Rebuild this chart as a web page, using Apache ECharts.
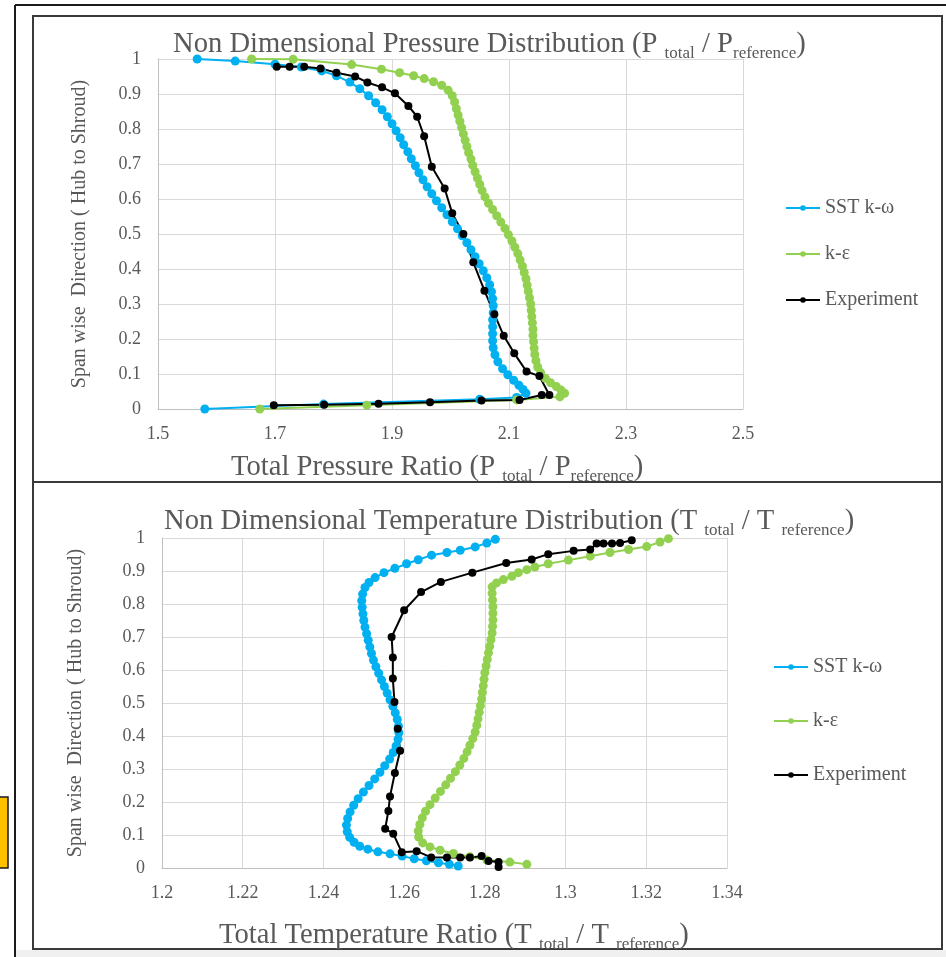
<!DOCTYPE html>
<html>
<head>
<meta charset="utf-8">
<script src="https://cdn.jsdelivr.net/npm/echarts@6/dist/echarts.min.js"></script>
<style>
html,body{margin:0;padding:0;background:#fff;}
#c{width:946px;height:957px;}
</style>
</head>
<body>
<div id="c"></div>
<script>
// ---------- DATA ----------
const seriesNames = ['SST k-ω', 'k-ε', 'Experiment'];

// Pressure chart: [total pressure ratio, span]
const pressureSST = [
[1.567,1.000],[1.632,0.994],[1.700,0.985],[1.745,0.977],[1.780,0.966],[1.805,0.952],[1.828,0.934],[1.845,0.915],[1.860,0.895],[1.872,0.875],[1.883,0.855],[1.892,0.835],[1.900,0.815],[1.907,0.795],[1.914,0.775],[1.920,0.755],[1.927,0.735],[1.933,0.715],[1.940,0.695],[1.946,0.675],[1.953,0.655],[1.960,0.635],[1.968,0.615],[1.976,0.595],[1.985,0.575],[1.994,0.555],[2.003,0.535],[2.012,0.515],[2.020,0.495],[2.028,0.475],[2.035,0.455],[2.042,0.435],[2.049,0.415],[2.056,0.395],[2.062,0.375],[2.067,0.355],[2.070,0.335],[2.072,0.315],[2.073,0.295],[2.073,0.275],[2.072,0.255],[2.072,0.235],[2.072,0.215],[2.072,0.195],[2.073,0.175],[2.076,0.155],[2.081,0.135],[2.089,0.115],[2.098,0.098],[2.108,0.082],[2.117,0.068],[2.124,0.056],[2.129,0.045],[2.113,0.033],[2.050,0.028],[1.783,0.014],[1.580,0.000]
];
const pressureKE = [
[1.660,1.000],[1.731,0.999],[1.831,0.984],[1.882,0.971],[1.913,0.961],[1.937,0.952],[1.955,0.944],[1.971,0.935],[1.985,0.925],[1.996,0.911],[2.003,0.895],[2.007,0.877],[2.010,0.858],[2.013,0.840],[2.016,0.822],[2.019,0.804],[2.022,0.786],[2.025,0.768],[2.028,0.750],[2.031,0.732],[2.035,0.714],[2.038,0.696],[2.042,0.678],[2.046,0.660],[2.050,0.642],[2.054,0.624],[2.059,0.606],[2.065,0.588],[2.072,0.570],[2.079,0.552],[2.086,0.534],[2.093,0.516],[2.099,0.498],[2.105,0.480],[2.110,0.462],[2.115,0.444],[2.119,0.426],[2.123,0.408],[2.126,0.390],[2.129,0.372],[2.131,0.354],[2.133,0.336],[2.135,0.318],[2.137,0.300],[2.138,0.282],[2.139,0.264],[2.140,0.246],[2.141,0.228],[2.141,0.210],[2.142,0.192],[2.143,0.174],[2.144,0.156],[2.146,0.138],[2.149,0.120],[2.154,0.104],[2.162,0.088],[2.171,0.075],[2.181,0.064],[2.189,0.054],[2.195,0.045],[2.187,0.035],[2.113,0.026],[1.857,0.011],[1.674,0.000]
];
const pressureExp = [
[1.703,0.978],[1.725,0.978],[1.750,0.978],[1.778,0.973],[1.805,0.961],[1.837,0.950],[1.858,0.933],[1.883,0.919],[1.905,0.902],[1.928,0.866],[1.943,0.835],[1.955,0.779],[1.968,0.692],[1.990,0.630],[2.003,0.559],[2.022,0.500],[2.039,0.419],[2.058,0.338],[2.075,0.271],[2.091,0.209],[2.109,0.159],[2.130,0.107],[2.152,0.094],[2.169,0.040],[2.156,0.040],[2.118,0.026],[2.053,0.024],[1.965,0.019],[1.877,0.015],[1.784,0.012],[1.698,0.011]
];

// Temperature chart: [total temperature ratio, span]
const tempSST = [
[1.2826,0.996],[1.2805,0.985],[1.2776,0.973],[1.2739,0.963],[1.2706,0.956],[1.2668,0.948],[1.2635,0.934],[1.2606,0.922],[1.2577,0.908],[1.2550,0.895],[1.2528,0.880],[1.2513,0.865],[1.2503,0.850],[1.2497,0.830],[1.2495,0.810],[1.2496,0.790],[1.2498,0.770],[1.2500,0.750],[1.2503,0.730],[1.2507,0.710],[1.2511,0.690],[1.2515,0.670],[1.2519,0.650],[1.2524,0.630],[1.2530,0.610],[1.2537,0.590],[1.2544,0.570],[1.2551,0.550],[1.2558,0.530],[1.2565,0.510],[1.2572,0.490],[1.2578,0.470],[1.2583,0.450],[1.2586,0.430],[1.2587,0.410],[1.2585,0.390],[1.2580,0.370],[1.2573,0.350],[1.2564,0.330],[1.2552,0.310],[1.2540,0.290],[1.2527,0.270],[1.2513,0.250],[1.2499,0.230],[1.2486,0.210],[1.2475,0.190],[1.2466,0.170],[1.2460,0.150],[1.2457,0.130],[1.2459,0.110],[1.2465,0.093],[1.2476,0.078],[1.2490,0.066],[1.2510,0.057],[1.2535,0.049],[1.2565,0.043],[1.2595,0.036],[1.2625,0.028],[1.2655,0.022],[1.2685,0.016],[1.2712,0.011],[1.2734,0.006]
];
const tempKE = [
[1.3255,0.998],[1.3234,0.988],[1.3201,0.974],[1.3156,0.965],[1.3110,0.956],[1.3061,0.945],[1.3007,0.933],[1.2957,0.922],[1.2924,0.912],[1.2904,0.904],[1.2883,0.895],[1.2867,0.884],[1.2846,0.874],[1.2829,0.864],[1.2818,0.852],[1.2818,0.832],[1.2819,0.812],[1.2820,0.792],[1.2820,0.772],[1.2820,0.752],[1.2819,0.732],[1.2818,0.712],[1.2815,0.692],[1.2812,0.672],[1.2809,0.652],[1.2806,0.632],[1.2803,0.612],[1.2800,0.592],[1.2798,0.572],[1.2796,0.552],[1.2794,0.532],[1.2792,0.512],[1.2789,0.492],[1.2786,0.472],[1.2783,0.452],[1.2780,0.432],[1.2776,0.412],[1.2770,0.392],[1.2763,0.372],[1.2756,0.352],[1.2748,0.332],[1.2738,0.312],[1.2727,0.292],[1.2715,0.272],[1.2703,0.252],[1.2690,0.232],[1.2677,0.212],[1.2664,0.192],[1.2653,0.172],[1.2645,0.152],[1.2639,0.132],[1.2635,0.112],[1.2636,0.094],[1.2646,0.076],[1.2664,0.064],[1.2689,0.054],[1.2722,0.044],[1.2763,0.034],[1.2805,0.024],[1.2862,0.018],[1.2904,0.011]
];
const tempExp = [
[1.3164,0.993],[1.3135,0.985],[1.3115,0.983],[1.3094,0.983],[1.3077,0.983],[1.3061,0.965],[1.3020,0.961],[1.2957,0.951],[1.2916,0.935],[1.2853,0.924],[1.2769,0.895],[1.2691,0.867],[1.2642,0.836],[1.2600,0.781],[1.2569,0.700],[1.2572,0.638],[1.2572,0.574],[1.2576,0.503],[1.2584,0.422],[1.2590,0.355],[1.2577,0.288],[1.2565,0.217],[1.2561,0.173],[1.2553,0.119],[1.2573,0.104],[1.2594,0.048],[1.2631,0.051],[1.2667,0.032],[1.2706,0.032],[1.2739,0.032],[1.2763,0.032],[1.2792,0.036],[1.2809,0.021],[1.2834,0.018],[1.2834,0.003]
];

// Axis ranges / ticks
const pressureAxis = {min: 1.5, max: 2.5, interval: 0.2};
const tempAxis = {min: 1.2, max: 1.34, interval: 0.02};
const spanAxis = {min: 0, max: 1, interval: 0.1};

// ---------- STYLE ----------
const FONT = 'Liberation Serif';
const GREY = '#595959';
const colors = ['#00B0F0', '#92D050', '#000000'];

const richStyles = function (size, subSize) {
  return {
    m: {fontSize: size, fontFamily: FONT, fontWeight: 'normal', color: GREY, lineHeight: size + 6},
    s: {fontSize: subSize, fontFamily: FONT, fontWeight: 'normal', color: GREY, lineHeight: subSize, verticalAlign: 'bottom'}
  };
};

function xAxisCfg(idx, ax, dec, margin) {
  return {
    type: 'value', gridIndex: idx, min: ax.min, max: ax.max, interval: ax.interval,
    axisLine: {show: true, onZero: false, lineStyle: {color: '#bfbfbf', width: 1}},
    axisTick: {show: false},
    splitLine: {show: true, lineStyle: {color: '#d9d9d9', width: 1}},
    axisLabel: {
      color: GREY, fontFamily: FONT, fontSize: 18, margin: margin,
      formatter: v => String(+v.toFixed(dec))
    }
  };
}
function yAxisCfg(idx, gap) {
  return {
    type: 'value', gridIndex: idx, min: spanAxis.min, max: spanAxis.max, interval: spanAxis.interval,
    name: 'Span wise  Direction ( Hub to Shroud)', nameLocation: 'middle', nameGap: gap, nameRotate: 90,
    nameTextStyle: {color: GREY, fontFamily: FONT, fontSize: 20},
    axisLine: {show: true, lineStyle: {color: '#bfbfbf', width: 1}},
    axisTick: {show: false},
    splitLine: {show: true, lineStyle: {color: '#d9d9d9', width: 1}},
    axisLabel: {
      color: GREY, fontFamily: FONT, fontSize: 18, margin: 17,
      formatter: v => String(+v.toFixed(1))
    }
  };
}
function lineSeries(name, data, xi, color, size) {
  return {
    name: name, type: 'line', xAxisIndex: xi, yAxisIndex: xi, data: data,
    symbol: 'circle', symbolSize: size, showSymbol: true,
    lineStyle: {color: color, width: 2},
    itemStyle: {color: color},
    emphasis: {disabled: true}
  };
}

const legendText = {color: GREY, fontFamily: FONT, fontSize: 20};
const chart = echarts.init(document.getElementById('c'), null, {renderer: 'canvas'});
const option = {
  animation: false,
  backgroundColor: '#ffffff',
  color: colors,
  title: [
    {left: 168, top: 22, text: '{m|Non Dimensional Pressure Distribution (P }{s|total}{m| / P}{s|reference}{m|)}', textStyle: {rich: richStyles(28.6, 17)}},
    {left: 226, top: 445, text: '{m|Total Pressure Ratio (P }{s|total}{m| / P}{s|reference}{m|)}', textStyle: {rich: richStyles(28.6, 17)}},
    {left: 159, top: 499, text: '{m|Non Dimensional Temperature Distribution (T }{s|total}{m| / T }{s|reference}{m|)}', textStyle: {rich: richStyles(28.6, 17)}},
    {left: 214, top: 913, text: '{m|Total Temperature Ratio (T }{s|total}{m| / T }{s|reference}{m|)}', textStyle: {rich: richStyles(28.6, 17)}}
  ],
  legend: [
    {orient: 'vertical', left: 785, top: 198, padding: 0, itemGap: 26, itemWidth: 34, itemHeight: 7,
     data: seriesNames, textStyle: legendText, selectedMode: false},
    {orient: 'vertical', left: 773, top: 657, padding: 0, itemGap: 34, itemWidth: 34, itemHeight: 7,
     data: seriesNames, textStyle: legendText, selectedMode: false}
  ],
  grid: [
    {left: 158, top: 59, width: 585, height: 350},
    {left: 162, top: 538, width: 565, height: 330}
  ],
  xAxis: [xAxisCfg(0, pressureAxis, 1, 16), xAxisCfg(1, tempAxis, 2, 16)],
  yAxis: [yAxisCfg(0, 68), yAxisCfg(1, 76)],
  series: [
    lineSeries(seriesNames[0], pressureSST, 0, colors[0], 9),
    lineSeries(seriesNames[1], pressureKE, 0, colors[1], 9),
    lineSeries(seriesNames[2], pressureExp, 0, colors[2], 8),
    lineSeries(seriesNames[0], tempSST, 1, colors[0], 9),
    lineSeries(seriesNames[1], tempKE, 1, colors[1], 9),
    lineSeries(seriesNames[2], tempExp, 1, colors[2], 8)
  ],
  graphic: [
    {type: 'line', shape: {x1: 15, y1: 5, x2: 946, y2: 5}, style: {stroke: '#1a1a1a', lineWidth: 2}, silent: true},
    {type: 'line', shape: {x1: 15, y1: 5, x2: 15, y2: 957}, style: {stroke: '#1a1a1a', lineWidth: 2}, silent: true},
    {type: 'rect', shape: {x: 16, y: 950, width: 930, height: 7}, style: {fill: '#f0f0f0'}, silent: true},
    {type: 'rect', shape: {x: 33, y: 16, width: 909, height: 933}, style: {fill: null, stroke: '#3a3a3a', lineWidth: 2}, silent: true},
    {type: 'line', shape: {x1: 33, y1: 482, x2: 942, y2: 482}, style: {stroke: '#3a3a3a', lineWidth: 2}, silent: true},
    {type: 'rect', shape: {x: -2, y: 797, width: 10, height: 71}, style: {fill: '#FFC000', stroke: '#1a1a1a', lineWidth: 1.5}, silent: true}
  ]
};
chart.setOption(option);
</script>
</body>
</html>
